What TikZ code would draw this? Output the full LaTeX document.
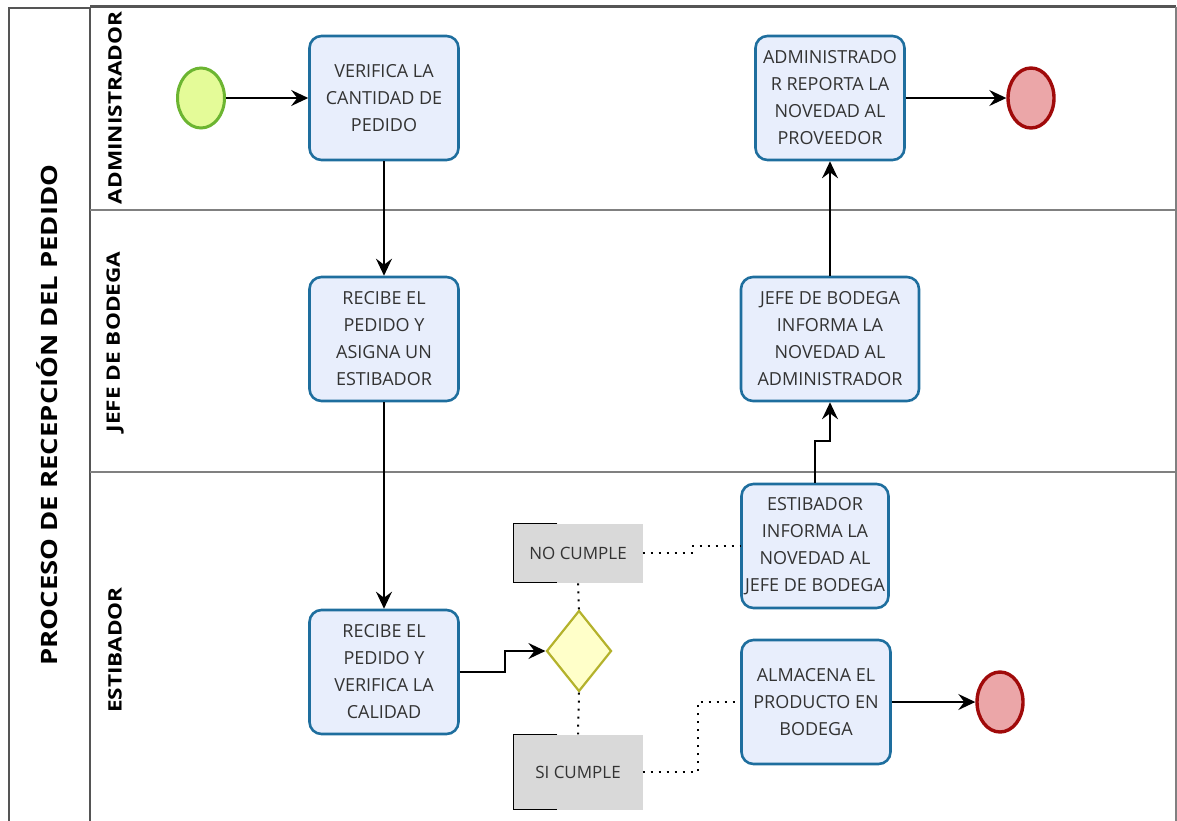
\documentclass[tikz,border=0pt]{standalone}
\usepackage{fontspec}
\setmainfont{Open Sans}
\newfontfamily\lanefont[FakeStretch=1.22]{Open Sans}
\usepackage{xcolor}
\usetikzlibrary{positioning,shapes.geometric,arrows.meta}
\definecolor{taskfill}{HTML}{E8EEFC}
\definecolor{taskline}{HTML}{1E6E9E}
\definecolor{startfill}{HTML}{E4FB98}
\definecolor{startline}{HTML}{6CB531}
\definecolor{endfill}{HTML}{EBA6A8}
\definecolor{endline}{HTML}{A00A0A}
\definecolor{gwfill}{HTML}{FFFFC9}
\definecolor{gwline}{HTML}{B4B22C}
\definecolor{notefill}{HTML}{D9D9D9}
\definecolor{txtgray}{HTML}{333333}
\definecolor{poolline}{HTML}{555555}

\begin{document}
\begin{tikzpicture}
  [x=1pt,y=-1pt,
   task/.style={draw=taskline,fill=taskfill,line width=2.6pt,rounded corners=12pt,
     minimum width=149pt,minimum height=124pt,align=center,text=txtgray,
     font=\fontsize{18}{27}\selectfont},
   startev/.style={ellipse,draw=startline,fill=startfill,line width=3pt,
     minimum width=47pt,minimum height=60pt,inner sep=0pt},
   endev/.style={ellipse,draw=endline,fill=endfill,line width=3.4pt,
     minimum width=46pt,minimum height=60pt,inner sep=0pt},
   gate/.style={diamond,draw=gwline,fill=gwfill,line width=2.2pt,
     minimum width=65pt,minimum height=81pt,inner sep=0pt},
   note/.style={fill=notefill,minimum width=129pt,text=txtgray,
     font=\fontsize{17}{20}\selectfont},
   lane/.style={rotate=90,font=\lanefont\bfseries\fontsize{18.5}{20}\selectfont},
   flow/.style={line width=1.6pt,-{Stealth[length=17pt,width=16pt,inset=6pt]}},
   assoc/.style={line width=2pt,dash pattern=on 2pt off 6pt}]
  \useasboundingbox (0,0) rectangle (1177,820);

  % pool and lanes
  \draw[poolline,line width=1.8pt] (9,830) -- (9,8) -- (90,8);
  \draw[poolline,line width=2pt] (90,830) -- (90,8);
  \draw[poolline,line width=3pt] (90,6.5) -- (1176,6.5);
  \draw[gray,line width=1.4pt] (1176,6.5) -- (1176,830);
  \draw[gray,line width=1.6pt] (90,210) -- (1176,210);
  \draw[gray,line width=1.6pt] (90,472) -- (1176,472);
  \node[lane,font=\lanefont\bfseries\fontsize{22.5}{24}\selectfont] (pool) at (47,415) {PROCESO DE RECEPCIÓN DEL PEDIDO};
  \node[lane] (ladmin) at (115,108) {ADMINISTRADOR};
  \node[lane] (ljefe) at (115,342) {JEFE DE BODEGA};
  \node[lane] (lestib) at (115,650) {ESTIBADOR};

  % events, tasks and gateway
  \node[startev] (start) at (201,98) {};
  \node[task] (verifica) at (384,98) {VERIFICA LA\\CANTIDAD DE\\PEDIDO};
  \node[task] (asigna) at (384,339) {RECIBE EL\\PEDIDO Y\\ASIGNA UN\\ESTIBADOR};
  \node[task] (calidad) at (384,672) {RECIBE EL\\PEDIDO Y\\VERIFICA LA\\CALIDAD};
  \node[gate] (gw) at (579,651) {};
  \node[note,minimum height=59pt] (nocumple) at (578,553) {NO CUMPLE};
  \node[note,minimum height=75pt] (sicumple) at (578,772) {SI CUMPLE};
  \node[task,minimum width=147pt] (infest) at (815,546) {ESTIBADOR\\INFORMA LA\\NOVEDAD AL\\JEFE DE BODEGA};
  \node[task] (almacena) at (816,702) {ALMACENA EL\\PRODUCTO EN\\BODEGA};
  \node[endev] (fin2) at (1000,702) {};
  \node[task,minimum width=178pt] (infjefe) at (830,339) {JEFE DE BODEGA\\INFORMA LA\\NOVEDAD AL\\ADMINISTRADOR};
  \node[task] (reporta) at (830,98) {ADMINISTRADO\\R REPORTA LA\\NOVEDAD AL\\PROVEEDOR};
  \node[endev] (fin1) at (1031,98) {};

  % annotation brackets
  \foreach \n in {nocumple,sicumple}
    \draw[line width=1.4pt] ([xshift=44pt]\n.north west) -- (\n.north west)
      -- (\n.south west) -- ([xshift=44pt]\n.south west);

  % sequence flows
  \foreach \from/\to in {start/verifica,verifica/asigna,asigna/calidad,
    infjefe/reporta,reporta/fin1,almacena/fin2}
    \draw[flow] (\from) -- (\to);
  \draw[flow] (calidad.east) -- ++(45,0) |- (gw.west);
  \draw[flow] (infest.north) -- ++(0,-42) -| (infjefe.south);

  % associations
  \draw[assoc] (gw.north) -- (nocumple.south);
  \draw[assoc] (gw.south) -- (sicumple.north);
  \draw[assoc] (nocumple.east) -- ++(50,0) |- (infest.west);
  \draw[assoc] (sicumple.east) -- ++(55,0) |- (almacena.west);
\end{tikzpicture}
\end{document}
